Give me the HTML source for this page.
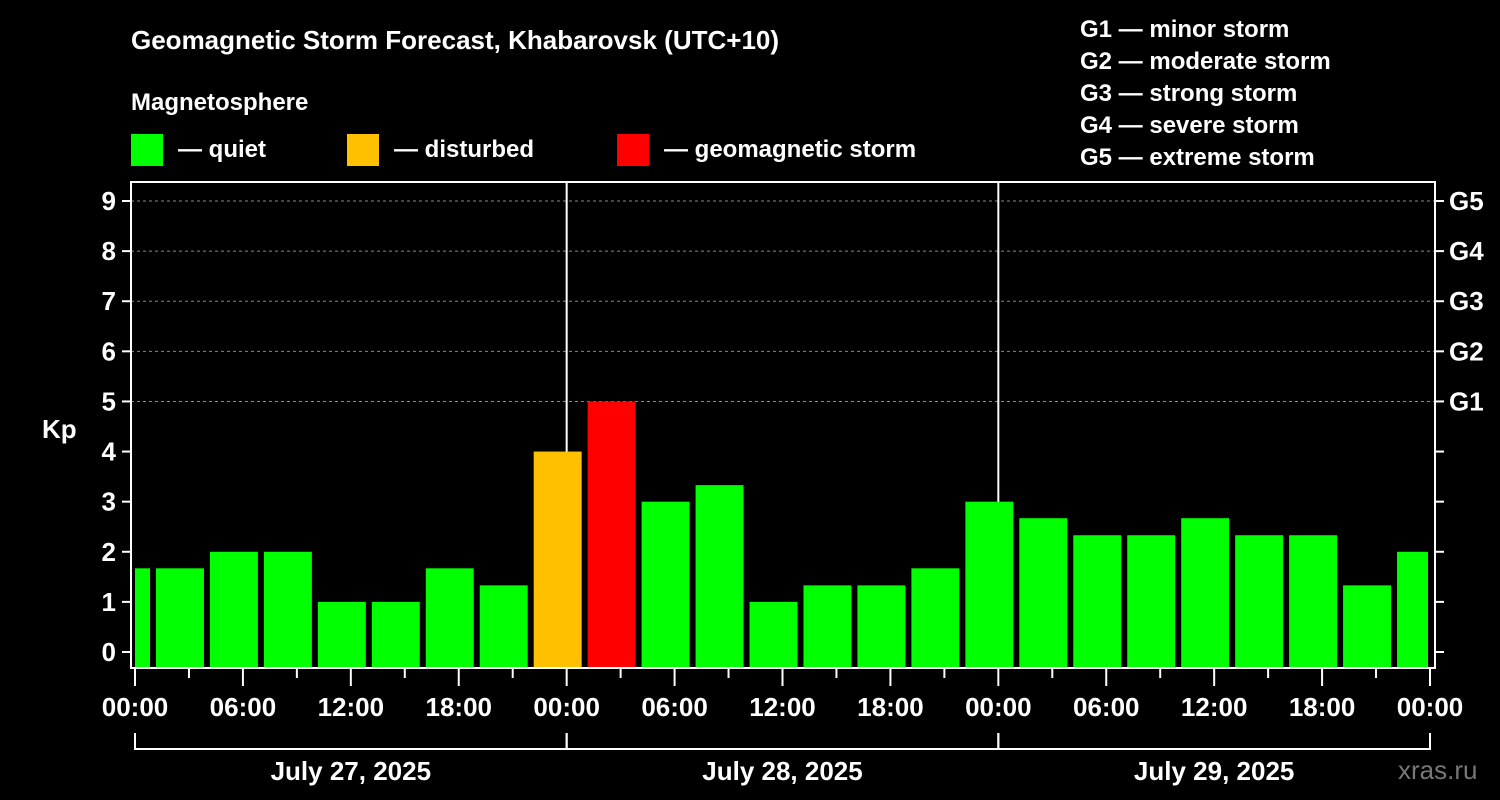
<!DOCTYPE html>
<html><head><meta charset="utf-8"><style>
html,body{margin:0;background:#000;}
svg{display:block;font-family:"Liberation Sans",Arial,sans-serif;font-weight:bold;}
</style></head><body>
<svg id="c" width="1500" height="800" viewBox="0 0 1500 800">
<text x="131" y="49" fill="#fff" font-size="26">Geomagnetic Storm Forecast, Khabarovsk (UTC+10)</text>
<text x="131" y="110" fill="#fff" font-size="24">Magnetosphere</text>
<g><rect x="131" y="134" width="32" height="32" fill="#00ff00"/><text x="178" y="157" fill="#fff" font-size="24">— quiet</text></g>
<g><rect x="347" y="134" width="32" height="32" fill="#ffc000"/><text x="394" y="157" fill="#fff" font-size="24">— disturbed</text></g>
<g><rect x="617" y="134" width="32" height="32" fill="#ff0000"/><text x="664" y="157" fill="#fff" font-size="24">— geomagnetic storm</text></g>
<g fill="#fff" font-size="24">
<text x="1080" y="37">G1 — minor storm</text><text x="1080" y="69">G2 — moderate storm</text><text x="1080" y="101">G3 — strong storm</text><text x="1080" y="133">G4 — severe storm</text><text x="1080" y="165">G5 — extreme storm</text></g>
<text x="42" y="438" fill="#fff" font-size="26">Kp</text>
<text x="1398" y="779" fill="#777" font-size="26" font-weight="normal">xras.ru</text>
<g id="grid"></g><g id="bars"></g><g id="axes"></g>
</svg>
<script>
const kpValues=[1.67,1.67,2,2,1,1,1.67,1.33,4,5,3,3.33,1,1.33,1.33,1.67,3,2.67,2.33,2.33,2.67,2.33,2.33,1.33,2];
const barStartHours=[-2,1,4,7,10,13,16,19,22,25,28,31,34,37,40,43,46,49,52,55,58,61,64,67,70];
const xTickLabels=["00:00","06:00","12:00","18:00","00:00","06:00","12:00","18:00","00:00","06:00","12:00","18:00","00:00"];
const dateLabels=["July 27, 2025","July 28, 2025","July 29, 2025"];
const gLabels=["G1","G2","G3","G4","G5"];
const yTicks=[0,1,2,3,4,5,6,7,8,9];
const NS="http://www.w3.org/2000/svg";
const X0=135,X1=1430,H=72,L=131,R=1435,T=182,B=668;
const x=h=>X0+(X1-X0)*h/H;
const y=v=>652-v*(652-201)/9;
function mk(tag,attrs,parent,txt){const e=document.createElementNS(NS,tag);for(const k in attrs)e.setAttribute(k,attrs[k]);if(txt!==undefined)e.textContent=txt;document.getElementById(parent).appendChild(e);return e;}
// grid
[5,6,7,8,9].forEach(v=>{const e=mk('line',{x1:L,x2:R,y1:y(v),y2:y(v),stroke:'#888','stroke-dasharray':'3,3','stroke-width':1},'grid');

});
[24,48].forEach(h=>{const e=mk('line',{x1:x(h),x2:x(h),y1:T,y2:B,stroke:'#fff','stroke-width':2},'grid');

});
// bars
kpValues.forEach((v,i)=>{const s=barStartHours[i],en=s+3;
let a=s<0?X0:x(s)+3,b=en>H?X1-2:x(en)-3;
const col=v>=5?'#ff0000':(v>=4?'#ffc000':'#00ff00');
const e=mk('rect',{x:a,y:y(v),width:b-a,height:B-y(v),fill:col},'bars');

});
// frame
const f=mk('rect',{x:L,y:T,width:R-L,height:B-T,fill:'none',stroke:'#fff','stroke-width':2},'axes');


yTicks.forEach(v=>{mk('line',{x1:L-9,x2:L,y1:y(v),y2:y(v),stroke:'#fff','stroke-width':2},'axes');
mk('line',{x1:R,x2:R+9,y1:y(v),y2:y(v),stroke:'#fff','stroke-width':2},'axes');
const t=mk('text',{x:L-15,y:y(v)+9,fill:'#fff','font-size':26,'text-anchor':'end'},'axes',String(v));

});
gLabels.forEach((g,i)=>{const t=mk('text',{x:R+14,y:y(5+i)+9,fill:'#fff','font-size':26},'axes',g);

});
for(let h=0;h<=H;h+=3){const maj=h%6===0;mk('line',{x1:x(h),x2:x(h),y1:B,y2:maj?686:678,stroke:'#fff','stroke-width':2},'axes');}
xTickLabels.forEach((l,i)=>{const t=mk('text',{x:x(i*6),y:716,fill:'#fff','font-size':26,'text-anchor':'middle'},'axes',l);

});
dateLabels.forEach((d,i)=>{mk('path',{d:`M${x(i*24)} 733V749H${x(i*24+24)}V733`,fill:'none',stroke:'#fff','stroke-width':2},'axes');
const t=mk('text',{x:x(i*24+12),y:780,fill:'#fff','font-size':26,'text-anchor':'middle'},'axes',d);

});
</script>
</body></html>
